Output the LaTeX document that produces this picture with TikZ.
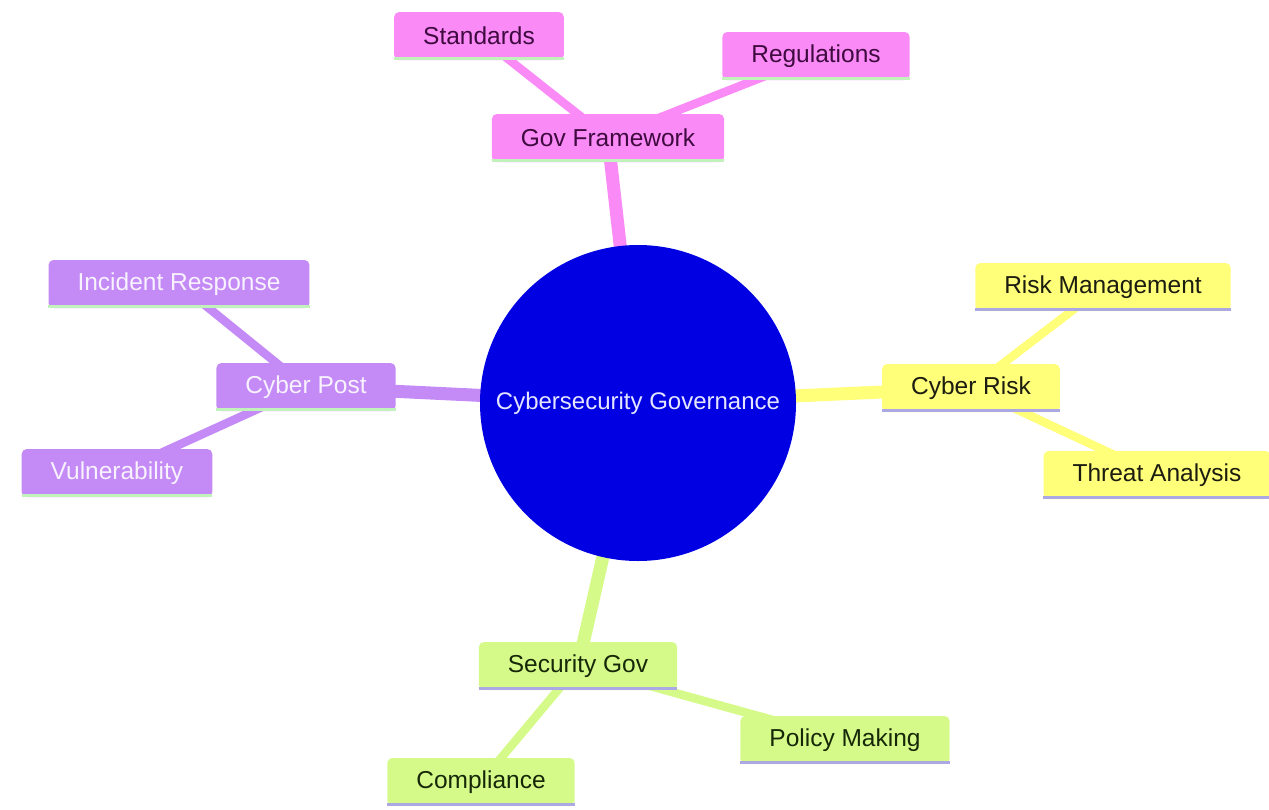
\documentclass[tikz,border=0pt]{standalone}
\usepackage{fontspec}
\setmainfont{Liberation Sans}
\usetikzlibrary{backgrounds}
\definecolor{cpink}{HTML}{FA8AF5}
\definecolor{cyel}{HTML}{FFFF7A}
\definecolor{cpur}{HTML}{C48AF5}
\definecolor{cgrn}{HTML}{D6FA8A}
\definecolor{lgrn}{HTML}{C2F2BC}
\definecolor{lav}{HTML}{ABA8E4}
\definecolor{tpink}{HTML}{3E0A40}
\definecolor{tyel}{HTML}{1C1C10}
\definecolor{tpur}{HTML}{F8F2FF}
\definecolor{tgrn}{HTML}{162808}
\definecolor{cblue}{HTML}{0000E2}
\tikzset{
  x=1pt, y=-1pt,
  box/.style n args={2}{fill=#1, text=#2, rounded corners=5pt, inner xsep=29pt, inner ysep=0pt,
    minimum height=48pt, font=\fontsize{24.5}{28}\selectfont},
  pinkbox/.style={box={cpink}{tpink}},
  yelbox/.style={box={cyel}{tyel}},
  purbox/.style={box={cpur}{tpur}},
  grnbox/.style={box={cgrn}{tgrn}},
  underline/.style={line width=3.5pt, draw=#1},
  mainedge/.style={line width=13pt, draw=#1},
  subedge/.style={line width=8.5pt, draw=#1},
}
\begin{document}
\begin{tikzpicture}
\useasboundingbox (0,0) rectangle (1269,809);
\node[circle, fill=cblue, minimum size=316pt, inner sep=0pt, text=white!90!blue,
  font=\fontsize{24}{28}\selectfont] (root) at (638,403) {Cybersecurity Governance};
% pink
\node[pinkbox] (gov) at (608,138) {Gov Framework};
\node[pinkbox] (std) at (479,36) {Standards};
\node[pinkbox] (reg) at (816,56) {Regulations};
% yellow
\node[yelbox] (risk) at (971,388) {Cyber Risk};
\node[yelbox] (rm) at (1103,287) {Risk Management};
\node[yelbox] (ta) at (1157,475) {Threat Analysis};
% purple
\node[purbox] (post) at (306,387) {Cyber Post};
\node[purbox] (ir) at (179,284) {Incident Response};
\node[purbox] (vul) at (117,473) {Vulnerability};
% green
\node[grnbox] (sec) at (578,666) {Security Gov};
\node[grnbox] (pm) at (845,740) {Policy Making};
\node[grnbox] (comp) at (481,782) {Compliance};
% bottom lines
\foreach \n/\c in {gov/lgrn, std/lgrn, reg/lgrn, post/lgrn, ir/lgrn, vul/lgrn,
                   risk/lav, rm/lav, ta/lav, sec/lav, pm/lav, comp/lav}
  \draw[underline=\c] ([yshift=1.75pt]\n.south west) -- ([yshift=1.75pt]\n.south east);
\begin{scope}[on background layer]
\draw[mainedge=cpink] (root.center) -- (gov.center);
\draw[mainedge=cyel] (root.center) -- (risk.center);
\draw[mainedge=cpur] (root.center) -- (post.center);
\draw[mainedge=cgrn] (root.center) -- (sec.center);
\draw[subedge=cpink] (gov.center) -- (std.center);
\draw[subedge=cpink] (gov.center) -- (reg.center);
\draw[subedge=cyel] (risk.center) -- (rm.center);
\draw[subedge=cyel] (risk.center) -- (ta.center);
\draw[subedge=cpur] (post.center) -- (ir.center);
\draw[subedge=cpur] (post.center) -- (vul.center);
\draw[subedge=cgrn] (sec.center) -- (pm.center);
\draw[subedge=cgrn] (sec.center) -- (comp.center);
\end{scope}
\end{tikzpicture}
\end{document}
